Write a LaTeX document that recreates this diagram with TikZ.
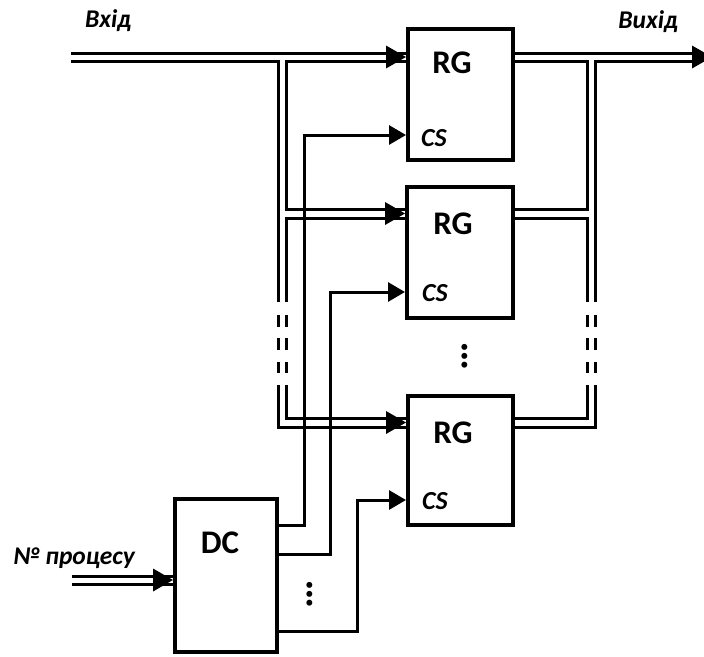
\documentclass[tikz,border=0pt]{standalone}
\usepackage{fontspec}
\setmainfont{Carlito}
\usetikzlibrary{arrows.meta}
\newcommand\bustri[1]{\fill (#1) -- ++(-20,-11.5) -- ++(0,23) -- cycle;}
\tikzset{
  box/.style={draw, line width=4pt, inner sep=0pt},
  busl/.style={line width=3pt},
  busdash/.style={line width=3pt, dash pattern=on 0pt off 13pt on 12pt off 11pt on 12pt off 12pt on 11pt off 12pt},
  sig/.style={line width=3pt, -{Triangle[length=17pt,width=19pt]}},
  bigtxt/.style={inner sep=0pt, font=\fontsize{33}{33}\selectfont\bfseries},
  cstxt/.style={inner sep=0pt, font=\fontsize{26}{26}\selectfont\bfseries\itshape},
  lbl/.style={inner sep=0pt, font=\fontsize{25.5}{25.5}\selectfont\bfseries\itshape},
  vdots/.style={inner sep=0pt, rotate=90, font=\fontsize{40}{40}\selectfont\bfseries}
}
\begin{document}
\begin{tikzpicture}[x=1pt,y=-1pt]
\useasboundingbox (0,0) rectangle (704,656);
\clip (0,0) rectangle (704,656);
% boxes
\node[box, minimum width=105pt, minimum height=131pt] (rg1) at (460.5,94.5) {};
\node[box, minimum width=106pt, minimum height=131pt] (rg2) at (460,252.5) {};
\node[box, minimum width=105pt, minimum height=129pt] (rg3) at (460.5,460.5) {};
\node[box, minimum width=102pt, minimum height=153pt] (dc) at (226,575.5) {};
% texts
\node[bigtxt] (t1) at (452,63) {RG};
\node[bigtxt] (t2) at (453,224) {RG};
\node[bigtxt] (t3) at (453,433) {RG};
\node[bigtxt] (tdc) at (220,543) {DC};
\node[cstxt] (c1) at (434,138) {CS};
\node[cstxt] (c2) at (435,293) {CS};
\node[cstxt] (c3) at (435,501) {CS};
\node[lbl] (lin) at (108,21) {Вхід};
\node[lbl] (lout) at (648,22) {Вихід};
\node[lbl] (lnum) at (74,558) {№ процесу};
\node[vdots] (dv1) at (465,356) {…};
\node[vdots] (dv2) at (310,594) {…};
% coordinates
\coordinate (iT) at (71,53);
\coordinate (iB) at (71,61);
\coordinate (oT) at (700,53);
\coordinate (oB) at (700,61);
\coordinate (nT) at (72,576);
\coordinate (nB) at (72,584);
% input bus
\draw[busl] (iT) -- (iT -| rg1.west);
\draw[busl] (iB) -- (278,61) -- (278,302);
\draw[busdash] (278,302) -- (278,385);
\draw[busl] (278,385) -- (278,427) -- (rg3.west |- 0,427);
\draw[busl] (rg1.west |- 0,61) -- (286,61) -- (286,209) -- (rg2.west |- 0,209);
\draw[busl] (rg2.west |- 0,218) -- (286,218) -- (286,302);
\draw[busdash] (286,302) -- (286,385);
\draw[busl] (286,385) -- (286,418) -- (rg3.west |- 0,418);
\coordinate (a1) at (rg1.west |- 0,57);
\coordinate (a2) at (rg2.west |- 0,213.5);
\coordinate (a3) at (rg3.west |- 0,422.5);
\bustri{a1}
\bustri{a2}
\bustri{a3}
% output bus
\draw[busl] (rg1.east |- 0,53) -- (oT);
\draw[busl] (oB) -- (595,61) -- (595,302);
\draw[busdash] (595,302) -- (595,385);
\draw[busl] (595,385) -- (595,427) -- (rg3.east |- 0,427);
\draw[busl] (rg1.east |- 0,61) -- (587,61) -- (587,209) -- (rg2.east |- 0,209);
\draw[busl] (rg2.east |- 0,218) -- (587,218) -- (587,302);
\draw[busdash] (587,302) -- (587,385);
\draw[busl] (587,385) -- (587,418) -- (rg3.east |- 0,418);
\coordinate (ao) at (712,57);
\bustri{ao}
% DC input
\draw[busl] (nT) -- (nT -| dc.west);
\draw[busl] (nB) -- (nB -| dc.west);
\coordinate (ad) at (dc.west |- 0,580);
\bustri{ad}
% select lines
\draw[sig] (dc.east |- 0,525) -- (304,525) -- (304,135) -- (rg1.west |- 0,135);
\draw[sig] (dc.east |- 0,554) -- (330,554) -- (330,292) -- (rg2.west |- 0,292);
\draw[sig] (dc.east |- 0,631) -- (357,631) -- (357,500) -- (rg3.west |- 0,500);
\end{tikzpicture}
\end{document}
